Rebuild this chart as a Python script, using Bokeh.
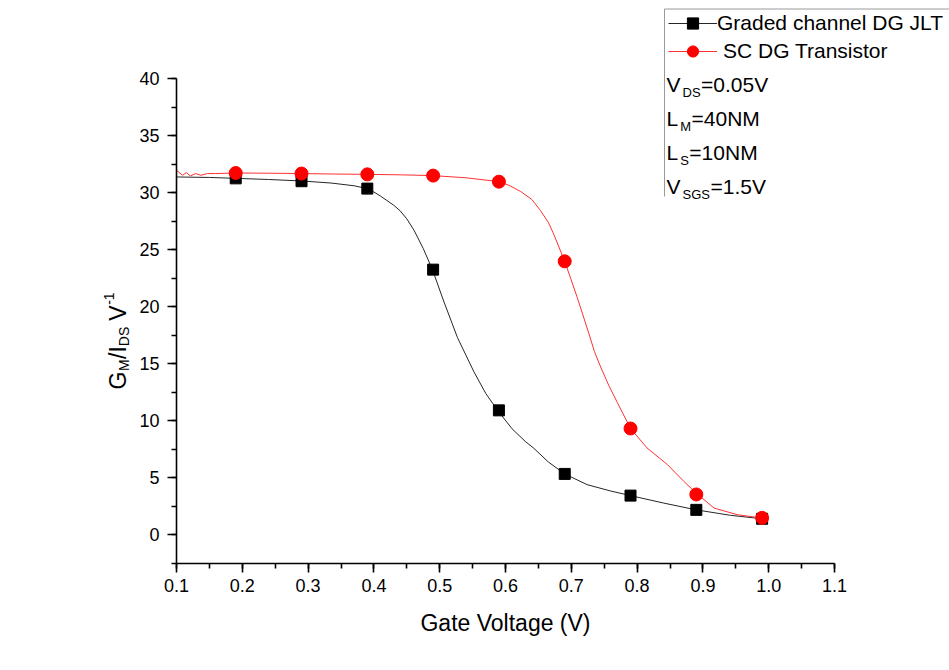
import math
from bokeh.plotting import figure
from bokeh.models import (Range1d, SingleIntervalTicker, PrintfTickFormatter,
                          Label, Legend, LegendItem, Arrow)
from bokeh.embed import file_html
from bokeh.resources import INLINE

# Gm/Ids versus gate voltage, continuous simulation output
v_graded = [0.100, 0.150, 0.190, 0.240, 0.290, 0.335, 0.370, 0.390, 0.400,
            0.410, 0.420, 0.430, 0.440, 0.450, 0.461, 0.475, 0.489, 0.506,
            0.527, 0.552, 0.570, 0.588, 0.610, 0.630, 0.643, 0.665, 0.690,
            0.724, 0.760, 0.790, 0.840, 0.890, 0.942, 0.990]
gm_graded = [31.37, 31.33, 31.25, 31.15, 31.02, 30.84, 30.60, 30.35, 30.05,
             29.70, 29.30, 28.90, 28.40, 27.70, 26.70, 25.10, 23.25, 20.50,
             17.30, 14.30, 12.40, 10.92, 9.30, 8.20, 7.60, 6.40, 5.35,
             4.41, 3.85, 3.45, 2.80, 2.20, 1.72, 1.42]

v_sc = [0.100, 0.109, 0.115, 0.121, 0.129, 0.137, 0.147, 0.159, 0.190, 0.240,
        0.290, 0.340, 0.390, 0.440, 0.490, 0.540, 0.590, 0.605, 0.623, 0.640,
        0.653, 0.665, 0.673, 0.690, 0.709, 0.727, 0.735, 0.744, 0.757, 0.770,
        0.790, 0.815, 0.846, 0.871, 0.891, 0.917, 0.952, 0.990]
gm_sc = [31.96, 31.52, 31.75, 31.46, 31.67, 31.52, 31.67, 31.67, 31.72, 31.70,
         31.67, 31.63, 31.60, 31.56, 31.49, 31.30, 30.96, 30.65, 30.10, 29.40,
         28.44, 27.40, 26.40, 23.98, 20.82, 17.60, 16.10, 14.80, 13.10, 11.60,
         9.33, 7.63, 6.17, 4.70, 3.60, 2.36, 1.78, 1.48]

# sampled bias points shown with markers
v_pts = [0.19, 0.29, 0.39, 0.49, 0.59, 0.69, 0.79, 0.89, 0.99]
gm_graded_pts = [31.25, 31.00, 30.35, 23.25, 10.92, 5.35, 3.45, 2.20, 1.42]
gm_sc_pts = [31.72, 31.67, 31.60, 31.49, 30.96, 23.98, 9.33, 3.55, 1.50]

series_names = ["Graded channel DG JLT", "SC DG Transistor"]
x_title = "Gate Voltage (V)"

FONT = "Liberation Sans"
W, H = 949, 670
# plotting area in page pixels: axes span x 176..834, y 78..563
AX_L, AX_R, AX_T, AX_B = 176, 834, 78, 563
X0, X1 = 0.1, 1.1
Y0, Y1 = -2.5, 40.0
FX = (AX_R - AX_L) / (X1 - X0)
FY = (AX_B - AX_T) / (Y1 - Y0)
XS = X0 - AX_L / FX
XE = XS + W / FX
YE = Y1 + AX_T / FY
YS = YE - H / FY

p = figure(width=W, height=H, x_range=Range1d(XS, XE), y_range=Range1d(YS, YE),
           output_backend="svg", toolbar_location=None, min_border=0,
           min_border_left=0, min_border_right=0, min_border_top=0,
           min_border_bottom=0)
p.xgrid.visible = False
p.ygrid.visible = False
p.outline_line_color = None
p.background_fill_color = "white"
p.border_fill_color = "white"

p.xaxis.fixed_location = Y0
p.yaxis.fixed_location = X0
p.xaxis.bounds = (X0, X1)
p.yaxis.bounds = (Y0, Y1)

for ax in (p.xaxis[0], p.yaxis[0]):
    ax.axis_line_width = 1.6
    ax.axis_line_color = "black"
    ax.major_tick_line_width = 1.6
    ax.minor_tick_line_width = 1.6
    ax.major_tick_line_color = "black"
    ax.minor_tick_line_color = "black"
    ax.major_tick_in = 0
    ax.major_tick_out = 9
    ax.minor_tick_in = 0
    ax.minor_tick_out = 5
    ax.major_label_text_font = FONT
    ax.major_label_text_font_size = "18px"
    ax.major_label_text_color = "black"

p.xaxis.ticker = SingleIntervalTicker(interval=0.1, num_minor_ticks=2)
p.yaxis.ticker = SingleIntervalTicker(interval=5, num_minor_ticks=2)
p.xaxis.formatter = PrintfTickFormatter(format="%.1f")
p.yaxis.formatter = PrintfTickFormatter(format="%d")
p.xaxis.major_label_standoff = 6
p.yaxis.major_label_standoff = 8
p.xaxis.axis_label = x_title
p.xaxis.axis_label_text_font = FONT
p.xaxis.axis_label_text_font_size = "23px"
p.xaxis.axis_label_text_font_style = "normal"
p.xaxis.axis_label_text_color = "black"
p.xaxis.axis_label_standoff = 15

# curves and markers
l_graded = p.line(v_graded, gm_graded, line_color="#262626", line_width=1)
l_sc = p.line(v_sc, gm_sc, line_color="#ff3030", line_width=1)
m_graded = p.scatter(v_pts, gm_graded_pts, marker="square", size=11,
                     fill_color="black", line_color="black")
m_sc = p.scatter(v_pts, gm_sc_pts, marker="circle", size=13,
                 fill_color="#ff0000", line_color="#ff0000")


def dx(cx):
    return XS + cx / FX


def dy(cy):
    return YE - cy / FY


# Arial / Liberation Sans advance widths (per 1000 em)
WID = {" ": 278, "-": 333, ".": 278, "/": 278, "=": 584, "(": 333, ")": 333,
       "D": 722, "G": 778, "I": 278, "L": 556, "M": 833, "N": 722, "S": 667,
       "V": 667}
for d in "0123456789":
    WID[d] = 556


def text_width(s, size):
    return sum(WID.get(c, 556) for c in s) * size / 1000.0


def text_run(cx, cy, runs, rotated=False):
    """runs: (text, size_px, baseline shift px, gap before px)."""
    pos = 0.0
    for txt, size, shift, gap in runs:
        pos += gap
        if rotated:
            x, y, ang = cx + shift, cy - pos, math.pi / 2
        else:
            x, y, ang = cx + pos, cy + shift, 0
        p.add_layout(Label(x=dx(x), y=dy(y), text=txt, angle=ang,
                           text_font=FONT, text_font_size=f"{size}px",
                           text_color="black", text_align="left",
                           text_baseline="alphabetic"))
        pos += text_width(txt, size)


# y-axis title with sub/superscripts
text_run(117, 389, [("G", 23, 0, 0), ("M", 14, 6, 0.5), ("/I", 23, 0, 0.5),
                    ("DS", 14, 6, 0), ("V", 23, 0, 6), ("-1", 14, -9, 0.5)],
         rotated=True)

# legend frame (top and left edges)
for (xa, ya, xb, yb) in [(664, 8.5, 960, 8.5), (664, 8.5, 664, 196)]:
    p.add_layout(Arrow(end=None, x_start=dx(xa), y_start=dy(ya),
                       x_end=dx(xb), y_end=dy(yb),
                       line_color="#9a9a9a", line_width=1))

# legend entries
for name, rends, center, standoff in [
        (series_names[0], [l_graded, m_graded], 23.3, 0),
        (series_names[1], [l_sc, m_sc], 50.7, 6)]:
    gh = 28
    leg = Legend(items=[LegendItem(label=name, renderers=rends)],
                 location=(668, H - (center + gh / 2)),
                 glyph_width=49, glyph_height=gh, label_height=gh,
                 label_standoff=standoff, padding=0, margin=0, spacing=0,
                 border_line_alpha=0, background_fill_alpha=0,
                 label_text_font=FONT, label_text_font_size="21px",
                 label_text_color="black")
    p.add_layout(leg, "center")

# device / bias parameters
params = [
    (83.5, [("V", 21, 0, 0), ("DS", 13, 8, 2), ("=0.05V", 21, 0, 0.5)]),
    (118.3, [("L", 21, 0, 0), ("M", 13, 8, 2), ("=40NM", 21, 0, 0.5)]),
    (152.3, [("L", 21, 0, 0), ("S", 13, 8, 2), ("=10NM", 21, 0, 0.5)]),
    (186.3, [("V", 21, 0, 0), ("SGS", 13, 8, 2), ("=1.5V", 21, 0, 0.5)]),
]
for base, runs in params:
    text_run(666, base, runs)

open("out.html", "w").write(file_html(p, INLINE))
